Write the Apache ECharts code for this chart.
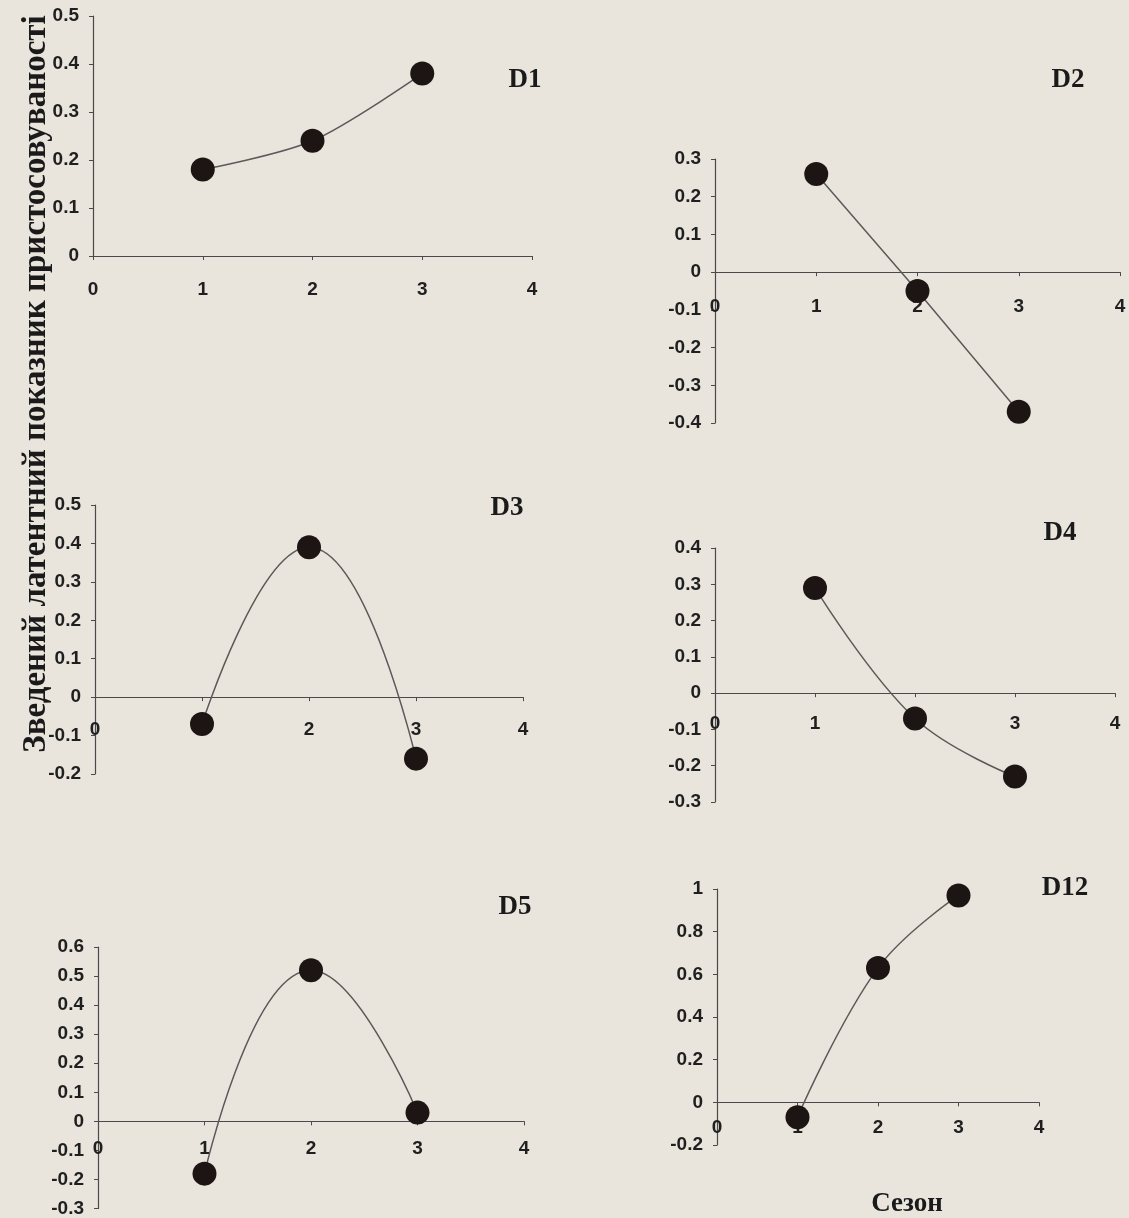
<!DOCTYPE html>
<html>
<head>
<meta charset="utf-8">
<script src="https://cdn.jsdelivr.net/npm/echarts@6/dist/echarts.min.js"></script>
<style>
html,body{margin:0;padding:0;background:#e9e5dc;}
#c{width:1129px;height:1218px;}
</style>
</head>
<body>
<div id="c"></div>
<script>
// ---- data ----
const seasons = [1, 2, 3];
const panelNames = ['D1', 'D2', 'D3', 'D4', 'D5', 'D12'];
const d1 = [0.18, 0.24, 0.38];
const d2 = [0.26, -0.05, -0.37];
const d3 = [-0.07, 0.39, -0.16];
const d4 = [0.29, -0.07, -0.23];
const d5 = [-0.18, 0.52, 0.03];
const d12 = [-0.07, 0.63, 0.97];
const yMins = [0, -0.4, -0.2, -0.3, -0.3, -0.2];
const yMaxs = [0.5, 0.3, 0.5, 0.4, 0.6, 1];
const yIntervals = [0.1, 0.1, 0.1, 0.1, 0.1, 0.2];
const xTicks = [0, 1, 2, 3, 4];
const yAxisTitle = 'Зведений латентний показник пристосовуваності';
const xAxisTitle = 'Сезон';

// ---- layout (positions/styles) ----
const grids = [
  {left: 93, top: 16, width: 439, height: 240},
  {left: 715, top: 159, width: 405, height: 264},
  {left: 95, top: 505, width: 428, height: 269},
  {left: 715, top: 548, width: 400, height: 254},
  {left: 98, top: 947, width: 426, height: 270},
  {left: 717, top: 889, width: 322, height: 256}
];
const titlePos = [[525, 80], [1068, 80], [507, 508], [1060, 533], [515, 907], [1065, 888]];
const smoothing = [0.3, false, 0.5, 0.4, 0.5, 0.4];
const xLabelGap = [24, 25, 23, 21, 21, 16];
const allSeries = [d1, d2, d3, d4, d5, d12];

// label margin measured from the grid bottom, so that labels sit just below the zero line
function xMargin(i) {
  const g = grids[i];
  const zeroOffset = g.height * (0 - yMins[i]) / (yMaxs[i] - yMins[i]);
  return xLabelGap[i] - zeroOffset;
}

const labelFont = {fontFamily: 'Liberation Sans, Arial, sans-serif', fontWeight: 'bold', fontSize: 19, color: '#1f1f1f'};
const axisLine = {show: true, onZero: true, lineStyle: {color: '#4a4a4a', width: 1.2}};

const chart = echarts.init(document.getElementById('c'), null, {renderer: 'canvas'});
const option = {
  backgroundColor: '#e9e5dc',
  animation: false,
  grid: grids.map(g => Object.assign({containLabel: false}, g)),
  xAxis: grids.map((g, i) => ({
    type: 'value', gridIndex: i, min: xTicks[0], max: xTicks[xTicks.length - 1], interval: 1,
    axisLine: axisLine,
    axisTick: {show: true, length: 4, lineStyle: {color: '#4a4a4a'}},
    axisLabel: Object.assign({margin: xMargin(i), showMinLabel: true, showMaxLabel: true}, labelFont),
    splitLine: {show: false}
  })),
  yAxis: grids.map((g, i) => ({
    type: 'value', gridIndex: i, min: yMins[i], max: yMaxs[i], interval: yIntervals[i],
    axisLine: Object.assign({}, axisLine, {onZero: false}),
    axisTick: {show: true, length: 4, lineStyle: {color: '#4a4a4a'}},
    axisLabel: Object.assign({margin: 14, showMinLabel: true, showMaxLabel: true}, labelFont),
    splitLine: {show: false}
  })),
  series: allSeries.map((vals, i) => ({
    type: 'line', xAxisIndex: i, yAxisIndex: i,
    data: seasons.map((s, j) => [s, vals[j]]),
    smooth: smoothing[i],
    symbol: 'circle', symbolSize: 24,
    itemStyle: {color: '#1d1513', borderWidth: 0},
    lineStyle: {color: '#5a5a5a', width: 1.5},
    z: 3
  })),
  graphic: [
    ...panelNames.map((name, i) => ({
      type: 'text', x: titlePos[i][0], y: titlePos[i][1],
      style: {text: name, fontFamily: 'Liberation Serif, Times New Roman, serif', fontWeight: 'bold', fontSize: 27,
        fill: '#1a1a1a', textAlign: 'center', textVerticalAlign: 'middle'}
    })),
    {
      type: 'text', x: 36, y: 384, rotation: Math.PI / 2,
      style: {text: yAxisTitle, fontFamily: 'Liberation Serif, Times New Roman, serif', fontWeight: 'bold', fontSize: 33,
        fill: '#1a1a1a', textAlign: 'center', textVerticalAlign: 'middle'}
    },
    {
      type: 'text', x: 907, y: 1204,
      style: {text: xAxisTitle, fontFamily: 'Liberation Serif, Times New Roman, serif', fontWeight: 'bold', fontSize: 27,
        fill: '#1a1a1a', textAlign: 'center', textVerticalAlign: 'middle'}
    }
  ]
};
chart.setOption(option);
</script>
</body>
</html>
